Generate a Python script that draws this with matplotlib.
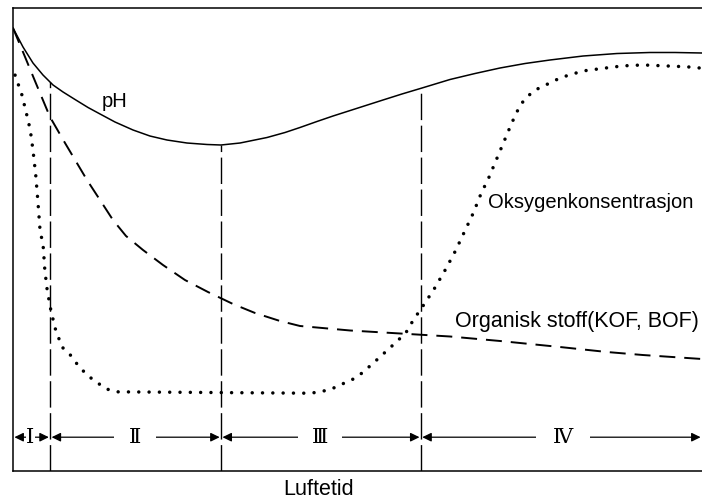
import numpy as np
import matplotlib
matplotlib.use('Agg')
import matplotlib.pyplot as plt

# Schematic: relative level (0-100) vs aeration time (0-100)
ph_t = [0, 1.45, 2.90, 4.35, 5.81, 7.26, 9.0, 10.89, 12.63, 14.80, 17.42, 19.88,
        22.35, 25.25, 28.16, 30.19, 32.95, 36.87, 39.48, 41.65, 44.12, 46.44,
        50.07, 53.70, 56.46, 59.36, 63.43, 67.05, 70.68, 74.31, 77.94, 82.73,
        87.66, 92.45, 96.08, 100]
ph_v = [95.68, 91.58, 88.12, 85.53, 83.37, 81.86, 80.24, 78.51, 77.11, 75.38,
        73.65, 72.35, 71.49, 70.84, 70.52, 70.41, 70.84, 72.03, 73.11, 74.19,
        75.49, 76.67, 78.40, 80.13, 81.43, 82.72, 84.56, 85.85, 87.04, 88.01,
        88.77, 89.63, 90.17, 90.39, 90.39, 90.28]

org_t = [0, 1.60, 3.19, 5.37, 7.55, 10.74, 12.63, 14.51, 16.40, 18.87, 21.77,
         24.96, 28.30, 31.93, 35.12, 38.75, 41.65, 48.91, 56.17, 63.43, 70.68,
         79.39, 86.21, 91.44, 100]
org_v = [95.68, 89.96, 84.23, 76.46, 70.84, 62.85, 58.53, 54.21, 50.76, 47.73,
         44.49, 41.25, 38.66, 36.07, 34.13, 32.40, 31.32, 30.35, 29.70, 29.05,
         28.08, 26.78, 25.70, 25.05, 24.19]

oxy_t = [0.3, 1.3, 2.0, 2.5, 2.9, 3.3, 3.6, 3.9, 4.4, 4.6, 4.9, 5.4, 6.1, 7.1,
         8.3, 9.3, 10.2, 11.3, 12.5, 13.6, 15.1, 43.1, 44.6, 46.2, 47.8, 49.2,
         50.7, 52.8, 55.0, 57.0, 58.1, 59.8, 61.2, 62.8, 64.2, 65.5, 66.8, 67.9,
         69.1, 70.2, 71.3, 72.4, 73.6, 74.6, 75.8, 77.1, 78.4, 79.8, 82.7, 85.8,
         88.5, 91.4, 94.6, 97.8, 100]
oxy_v = [85.5, 81.2, 76.9, 73.7, 69.3, 63.9, 58.5, 52.5, 48.2, 43.8, 39.7, 35.4,
         30.9, 26.8, 25.1, 23.1, 21.6, 20.1, 18.8, 17.7, 17.1, 16.8, 17.1, 17.7,
         18.8, 19.7, 21.2, 24.0, 27.0, 29.8, 32.6, 36.3, 39.5, 43.6, 47.5, 51.6,
         55.7, 59.8, 63.5, 67.4, 71.3, 75.2, 79.0, 80.8, 82.3, 83.2, 84.2, 85.1,
         86.4, 87.0, 87.5, 87.7, 87.5, 87.3, 87.0]

phase_bounds = [0, 5.4, 30.2, 59.2, 100]
phase_labels = ['Ⅰ', 'Ⅱ', 'Ⅲ', 'Ⅳ']
phase_label_t = [2.5, 17.7, 44.6, 79.8]
phase_level = 7.3

fig = plt.figure(figsize=(7.02, 4.99), dpi=100)
ax = fig.add_axes([13 / 702, 28 / 499, 689 / 702, 463 / 499])
ax.set_xlim(0, 100)
ax.set_ylim(0, 100)
ax.set_xticks([])
ax.set_yticks([])
ax.spines['right'].set_visible(False)
for s in ['left', 'top', 'bottom']:
    ax.spines[s].set_linewidth(1.1)

# curves
ax.plot(ph_t, ph_v, color='black', lw=1.1)
ax.plot(org_t, org_v, color='black', lw=1.4, linestyle=(0, (8.2, 4.6)))
ax.plot(oxy_t, oxy_v, color='black', lw=2.5, linestyle=(0, (0.01, 2.96)),
        dash_capstyle='round')

# phase boundaries, from the pH curve down to the time axis
for b in phase_bounds[1:-1]:
    top = np.interp(b, ph_t, ph_v)
    ax.plot([b, b], [0, top], color='black', lw=1.0, linestyle=(0, (19, 4)))

# phase arrows with roman numerals
pads = [0.3, 11, 10, 12]
for i, lab in enumerate(phase_labels):
    ax.annotate('', xy=(phase_bounds[i + 1], phase_level),
                xytext=(phase_bounds[i], phase_level),
                arrowprops=dict(arrowstyle='<|-|>,head_length=0.45,head_width=0.22',
                                color='black', lw=0.9, shrinkA=1, shrinkB=1,
                                mutation_scale=12))
    ax.text(phase_label_t[i], phase_level, lab, ha='center', va='center',
            fontsize=15, family=['DejaVu Serif', 'DejaVu Sans'], zorder=5,
            bbox=dict(fc='white', ec='none', pad=pads[i]))

lab_font = ['Liberation Sans', 'DejaVu Sans']
ax.text(12.8, 78.6, 'pH', fontsize=14.5, family=lab_font, va='baseline')
ax.text(68.9, 56.8, 'Oksygenkonsentrasjon', fontsize=14.5, family=lab_font,
        va='baseline')
ax.text(64.2, 31.1, 'Organisk stoff(KOF, BOF)', fontsize=15.5, family=lab_font,
        va='baseline')
fig.text(319 / 702, 4 / 499, 'Luftetid', fontsize=15.5, family=lab_font,
         ha='center', va='baseline')

fig.savefig('out.png', dpi=100)
